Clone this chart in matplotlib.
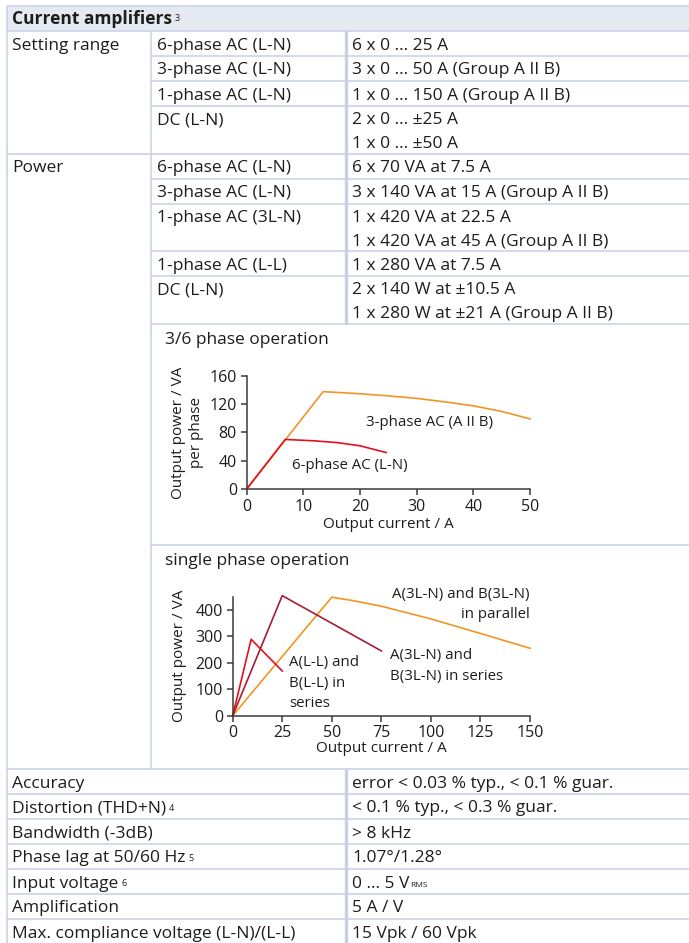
import matplotlib
matplotlib.use("Agg")
import matplotlib.pyplot as plt
from matplotlib.patches import Rectangle

plt.rcParams['font.family'] = ['Open Sans', 'DejaVu Sans']

# ---------------- data ----------------
title = "Current amplifiers"
title_note = "3"

setting_label = "Setting range"
setting_modes = ["6-phase AC (L-N)", "3-phase AC (L-N)", "1-phase AC (L-N)", "DC (L-N)"]
setting_values = [["6 x 0 ... 25 A"],
                  ["3 x 0 ... 50 A (Group A II B)"],
                  ["1 x 0 ... 150 A (Group A II B)"],
                  ["2 x 0 ... \u00b125 A", "1 x 0 ... \u00b150 A"]]

power_label = "Power"
power_modes = ["6-phase AC (L-N)", "3-phase AC (L-N)", "1-phase AC (3L-N)",
               "1-phase AC (L-L)", "DC (L-N)"]
power_values = [["6 x 70 VA at 7.5 A"],
                ["3 x 140 VA at 15 A (Group A II B)"],
                ["1 x 420 VA at 22.5 A", "1 x 420 VA at 45 A (Group A II B)"],
                ["1 x 280 VA at 7.5 A"],
                ["2 x 140 W at \u00b110.5 A", "1 x 280 W at \u00b121 A (Group A II B)"]]

spec_labels = ["Accuracy", "Distortion (THD+N)", "Bandwidth (-3dB)",
               "Phase lag at 50/60 Hz", "Input voltage", "Amplification",
               "Max. compliance voltage (L-N)/(L-L)"]
spec_notes = ["", "4", "", "5", "6", "", ""]
spec_values = ["error < 0.03 % typ., < 0.1 % guar.", "< 0.1 % typ., < 0.3 % guar.",
               "> 8 kHz", "1.07\u00b0/1.28\u00b0", "0 ... 5 V", "5 A / V",
               "15 Vpk / 60 Vpk"]
spec_subs = ["", "", "", "", "RMS", "", ""]

# chart 1: 3/6 phase operation
chart1_title = "3/6 phase operation"
three_phase_I = [0, 13.5, 20, 25, 30, 35, 40, 45, 50]
three_phase_P = [0, 137.5, 134.5, 131.5, 128, 123, 117.5, 109.5, 99]
six_phase_I = [0, 6.8, 12, 16, 20, 24.6]
six_phase_P = [0, 70, 68, 65.5, 61, 51.5]
chart1_xticks = [0, 10, 20, 30, 40, 50]
chart1_yticks = [0, 40, 80, 120, 160]

# chart 2: single phase operation
chart2_title = "single phase operation"
parallel_I = [0, 50, 60, 75, 100, 125, 150]
parallel_P = [0, 448, 436, 414, 366, 311, 255]
series_3ln_I = [0, 25, 75]
series_3ln_P = [0, 454, 245]
series_ll_I = [0, 9.3, 25]
series_ll_P = [0, 289, 169]
chart2_xticks = [0, 25, 50, 75, 100, 125, 150]
chart2_yticks = [0, 100, 200, 300, 400]

# ---------------- style ----------------
W, H = 689, 943
LINE = '#c9d0e4'
HEAD = '#e5e9f2'
TXT = '#1d1d1b'
AXC = '#3a3a3a'
ORANGE = '#f39423'
RED = '#e3101e'
DARKRED = '#a71c32'
FS = 12.5     # table text
LFS = 11      # chart axis labels
TFS = 11.5    # tick labels
AFS = 10.8    # annotations

fig = plt.figure(figsize=(W / 100, H / 100), dpi=100)
base = fig.add_axes([0, 0, 1, 1])
base.set_xlim(0, W)
base.set_ylim(H, 0)
base.axis('off')

X_LEFT, X_C2, X_C3 = 7, 151, 346
TX1, TX2, TX3 = 12, 157, 352
LW = 1.1
DY = 14.5


def hline(y, x0, x1=W):
    base.plot([x0, x1], [y, y], color=LINE, lw=LW, solid_capstyle='butt')


def vline(x, y0, y1, lw=LW):
    base.plot([x, x], [y0, y1], color=LINE, lw=lw, solid_capstyle='butt')


def txt(x, y, s, **kw):
    return base.text(x, y, s, fontsize=kw.pop('fontsize', FS), color=TXT,
                     ha='left', va='center', **kw)


def note(t, s):
    base.annotate(s, xy=(1, 1), xycoords=t, xytext=(2, -2.5),
                  textcoords='offset points', fontsize=6.5, color=TXT,
                  ha='left', va='top')


# header
base.add_patch(Rectangle((X_LEFT, 6), W - X_LEFT, 25, facecolor=HEAD,
                         edgecolor='none'))
hline(6, X_LEFT)
t = txt(TX1, 19.5, title, fontweight='bold')
note(t, title_note)
hline(31, X_LEFT)

y = 31.0


def block(label, modes, values):
    global y
    top = y
    txt(TX1, top + DY, label)
    for i, (m, vals) in enumerate(zip(modes, values)):
        h = 25 if len(vals) == 1 else 47.5
        txt(TX2, y + DY, m)
        for j, v in enumerate(vals):
            txt(TX3, y + DY + 23.5 * j, v)
        y += h
        last = (i == len(modes) - 1)
        if last and label != power_label:
            hline(y, X_LEFT)
        else:
            hline(y, X_C2)


block(setting_label, setting_modes, setting_values)
block(power_label, power_modes, power_values)
y_charts = y  # ~323
vline(X_C3, 31, y_charts, lw=2.4)

# chart cells
c1_top, c2_top, c2_bot = y_charts, 545, 769
hline(c2_top, X_C2)
hline(c2_bot, X_LEFT)
txt(165, c1_top + 16, chart1_title)
txt(165, c2_top + 16, chart2_title)

# spec rows
y = c2_bot
for i, (lab, nt, val, sub) in enumerate(zip(spec_labels, spec_notes,
                                             spec_values, spec_subs)):
    t = txt(TX1, y + DY, lab)
    if nt:
        note(t, nt)
    tv = txt(TX3, y + DY, val)
    if sub:
        base.annotate(sub, xy=(1, 0), xycoords=tv, xytext=(0.5, 1.8),
                      textcoords='offset points', fontsize=6, color=TXT,
                      ha='left', va='bottom')
    y += 25
    if i < len(spec_labels) - 1:
        hline(y, X_LEFT)
vline(X_C3, c2_bot, H, lw=2.4)
vline(X_LEFT, 6, H)
vline(X_C2, 31, c2_bot)


# ---------------- charts ----------------
def px_axes(x0, x1, yb, yt):
    return fig.add_axes([x0 / W, 1 - yb / H, (x1 - x0) / W, (yb - yt) / H])


def style(ax):
    for s in ('top', 'right'):
        ax.spines[s].set_visible(False)
    for s in ('left', 'bottom'):
        ax.spines[s].set_color(AXC)
        ax.spines[s].set_linewidth(1.1)
    ax.tick_params(direction='out', length=4, width=1.1, color=AXC,
                   labelsize=TFS, labelcolor=TXT, pad=3)
    ax.patch.set_alpha(0)


ax1 = px_axes(246.7, 530, 489, 375.7)
style(ax1)
ax1.plot(three_phase_I, three_phase_P, color=ORANGE, lw=1.2, clip_on=False)
ax1.plot(six_phase_I, six_phase_P, color=RED, lw=1.2, clip_on=False)
ax1.set_xlim(0, 50)
ax1.set_ylim(0, 160)
ax1.set_xticks(chart1_xticks)
ax1.set_yticks(chart1_yticks)
ax1.set_xlabel("Output current / A", fontsize=LFS, color=TXT, va='top')
ax1.xaxis.set_label_coords(0.5, -0.25)
ax1.set_ylabel("Output power / VA\nper phase", fontsize=LFS, color=TXT,
               linespacing=1.25)
ax1.yaxis.set_label_coords(-0.15, 0.5)
ax1.text(21, 94.5, "3-phase AC (A II B)", fontsize=AFS, color=TXT,
         ha='left', va='center')
ax1.text(8, 32.5, "6-phase AC (L-N)", fontsize=AFS, color=TXT,
         ha='left', va='center')

ax2 = px_axes(232.7, 530, 715.7, 596.7)
style(ax2)
ax2.plot(parallel_I, parallel_P, color=ORANGE, lw=1.2, clip_on=False)
ax2.plot(series_3ln_I, series_3ln_P, color=DARKRED, lw=1.2, clip_on=False)
ax2.plot(series_ll_I, series_ll_P, color=RED, lw=1.2, clip_on=False)
ax2.set_xlim(0, 150)
ax2.set_ylim(0, 450)
ax2.set_xticks(chart2_xticks)
ax2.set_yticks(chart2_yticks)
ax2.set_xlabel("Output current / A", fontsize=LFS, color=TXT, va='top')
ax2.xaxis.set_label_coords(0.5, -0.215)
ax2.set_ylabel("Output power / VA", fontsize=LFS, color=TXT)
ax2.yaxis.set_label_coords(-0.155, 0.5)
for k, s in enumerate(["A(L-L) and", "B(L-L) in", "series"]):
    ax2.text(28.4, 199.5 - 77.5 * k, s, fontsize=AFS, color=TXT,
             ha='left', va='center', clip_on=False)
for k, s in enumerate(["A(3L-N) and", "B(3L-N) in series"]):
    ax2.text(79.4, 226 - 79.5 * k, s, fontsize=AFS, color=TXT,
             ha='left', va='center', clip_on=False)
for k, s in enumerate(["A(3L-N) and B(3L-N)", "in parallel"]):
    ax2.text(150, 457 - 76 * k, s, fontsize=AFS, color=TXT,
             ha='right', va='center', clip_on=False)

fig.savefig("out.png", dpi=100)
